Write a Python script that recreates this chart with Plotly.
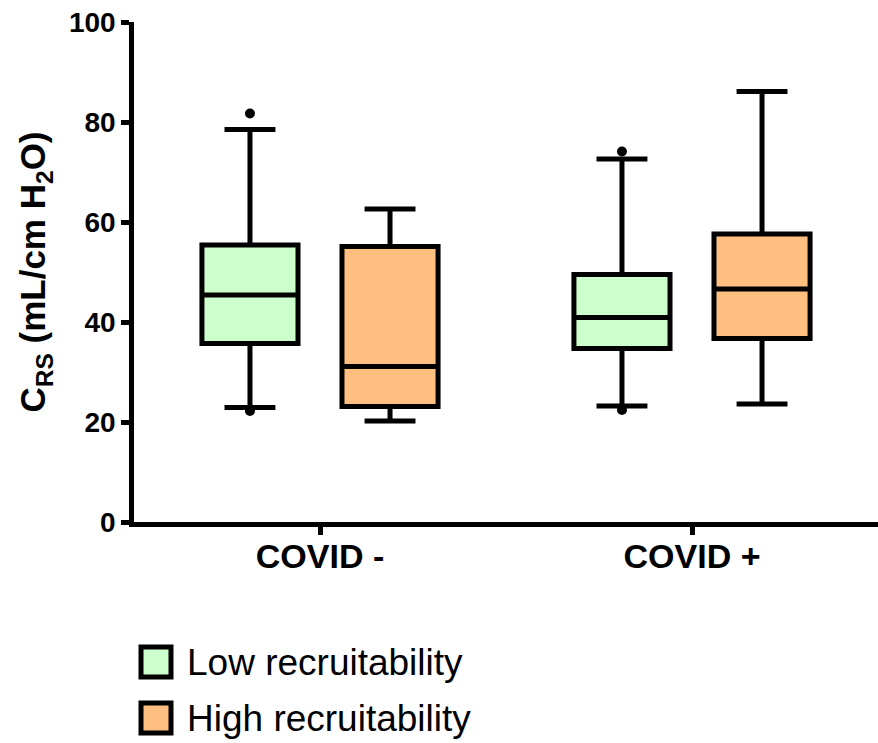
import plotly.graph_objects as go

# ---- data ----
categories = ["COVID -", "COVID +"]
series_names = ["Low recruitability", "High recruitability"]

low_q1 = [35.7, 34.7]
low_median = [45.4, 40.9]
low_q3 = [55.4, 49.5]
low_lower = [22.9, 23.2]
low_upper = [78.5, 72.6]
low_points = [[81.7, 22.2], [74.1, 22.4]]

high_q1 = [23.1, 36.7]
high_median = [31.1, 46.6]
high_q3 = [55.1, 57.6]
high_lower = [20.2, 23.6]
high_upper = [62.6, 86.1]

y_ticks = [0, 20, 40, 60, 80, 100]

# ---- styling ----
colors = ["#CCFFCC", "#FFBF80"]
FONT = "Arial, Liberation Sans, sans-serif"
W, H = 878, 743
ML, MR, MT, MB = 134, 0, 22, 221

fig = go.Figure()
fig.add_trace(go.Box(
    name=series_names[0], x=categories, y=low_points,
    q1=low_q1, median=low_median, q3=low_q3,
    lowerfence=low_lower, upperfence=low_upper,
    fillcolor=colors[0], line=dict(color="black", width=5),
    whiskerwidth=0.53, boxpoints="all", pointpos=0, jitter=0,
    marker=dict(color="black", size=10), offsetgroup="a",
    showlegend=False, hoverinfo="skip",
))
fig.add_trace(go.Box(
    name=series_names[1], x=categories,
    q1=high_q1, median=high_median, q3=high_q3,
    lowerfence=high_lower, upperfence=high_upper,
    fillcolor=colors[1], line=dict(color="black", width=5),
    whiskerwidth=0.53, boxpoints=False, offsetgroup="b",
    showlegend=False, hoverinfo="skip",
))

fig.update_layout(
    width=W, height=H,
    margin=dict(l=ML, r=MR, t=MT, b=MB),
    paper_bgcolor="white", plot_bgcolor="white",
    boxmode="group", boxgap=0.247, boxgroupgap=0.314,
    font=dict(family=FONT, color="black"),
    showlegend=False,
)
fig.update_xaxes(
    type="category", range=[-0.5, 1.5], autorange=False,
    showline=True, linecolor="black", linewidth=4.5,
    ticks="outside", ticklen=8, tickwidth=4.5, tickcolor="black",
    tickfont=dict(size=34, family=FONT, weight="bold"),
    ticklabelstandoff=-8,
    showgrid=False, zeroline=False, fixedrange=True,
)
fig.update_yaxes(
    range=[0, 100], autorange=False,
    tickvals=y_ticks, ticktext=[str(v) for v in y_ticks],
    showline=True, linecolor="black", linewidth=4.5,
    ticks="outside", ticklen=8, tickwidth=4.5, tickcolor="black",
    tickfont=dict(size=28, family=FONT, weight="bold"),
    showgrid=False, zeroline=False,
    title=dict(text="C<sub>RS</sub> (mL/cm H<sub>2</sub>O)",
               font=dict(size=35, family=FONT, weight="bold"), standoff=14),
)

# ---- custom legend (large swatches like the original) ----
pw, ph = W - ML - MR, H - MT - MB
def px(x):
    return (x - ML) / pw
def py(y):
    return (H - MB - y) / ph

legend_rows = [662, 718]
for name, col, cy in zip(series_names, colors, legend_rows):
    fig.add_shape(type="rect", xref="paper", yref="paper",
                  x0=px(141), x1=px(171), y0=py(cy + 15), y1=py(cy - 15),
                  fillcolor=col, line=dict(color="black", width=5))
    fig.add_annotation(xref="paper", yref="paper", x=px(185), y=py(cy),
                       xanchor="left", yanchor="middle", showarrow=False,
                       text=name, font=dict(size=37, family=FONT, color="black"))

fig.write_html("out.html", config={"displayModeBar": False},
               post_script="document.body.style.margin='0';document.body.style.padding='0';")
